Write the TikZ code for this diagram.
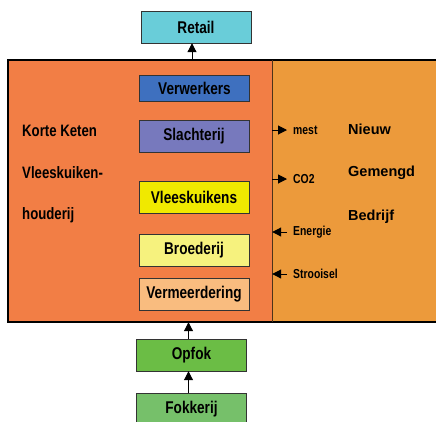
\documentclass[tikz,border=0pt]{standalone}
\usepackage{fontspec}
\setmainfont{Liberation Sans}
\newfontfamily\smalfont[FakeStretch=0.8]{Liberation Sans}
\usetikzlibrary{positioning,calc,arrows.meta}
\definecolor{ketenkleur}{HTML}{F27E45}
\definecolor{bedrijfkleur}{HTML}{EC9A3B}
\definecolor{retailkleur}{HTML}{69CDD9}
\definecolor{verwerkkleur}{HTML}{3E70BF}
\definecolor{slachtkleur}{HTML}{7779BD}
\definecolor{kuikenkleur}{HTML}{F0E900}
\definecolor{broedkleur}{HTML}{F6F27E}
\definecolor{vermeerkleur}{HTML}{F9BC7F}
\definecolor{opfokkleur}{HTML}{6BBD45}
\definecolor{fokkleur}{HTML}{76C06A}
\tikzset{
  schakel/.style={draw=black!80, minimum width=110pt, minimum height=32pt,
    inner sep=1pt, font=\smalfont\bfseries\fontsize{17}{19}\selectfont},
  linkstekst/.style={anchor=west, inner sep=1pt, font=\smalfont\bfseries\fontsize{16.5}{18}\selectfont},
  zijtekst/.style={anchor=west, inner sep=1pt, font=\smalfont\bfseries\fontsize{13}{14}\selectfont},
  grotetekst/.style={anchor=west, inner sep=1pt, font=\bfseries\fontsize{14.5}{17}\selectfont},
  pijl/.style={-{Triangle[length=9pt,width=9pt]}, line width=1pt}
}
\begin{document}
\begin{tikzpicture}[x=1pt,y=-1pt]
    \useasboundingbox (0,0) rectangle (436,421);
    % hoofdvlakken
    \node[fill=ketenkleur, minimum width=264pt, minimum height=262pt, inner sep=0pt] (keten) at (140,191) {};
    \node[fill=bedrijfkleur, minimum width=172pt, minimum height=262pt, inner sep=0pt, right=0pt of keten] (bedrijf) {};
    \draw[line width=1.6pt] (bedrijf.north east) -- (keten.north west) -- (keten.south west) -- (bedrijf.south east);
    \draw[black!60!brown, line width=0.8pt] (keten.north east) -- (keten.south east);

    % keten
    \node[schakel, fill=retailkleur] (Retail) at (196,27) {Retail};
    \node[schakel, fill=verwerkkleur, minimum height=26pt] (Verwerkers) at (194.5,88) {Verwerkers};
    \node[schakel, fill=slachtkleur] (Slachterij) at (194,136) {Slachterij};
    \node[schakel, fill=kuikenkleur] (Vleeskuikens) at (194,197.5) {Vleeskuikens};
    \node[schakel, fill=broedkleur] (Broederij) at (194,250) {Broederij};
    \node[schakel, fill=vermeerkleur] (Vermeerdering) at (194,294) {Vermeerdering};
    \node[schakel, fill=opfokkleur] (Opfok) at (191.5,355) {Opfok};
    \node[schakel, fill=fokkleur, below=22pt of Opfok] (Fokkerij) {Fokkerij};

    \node[linkstekst] (korte) at (21,131) {Korte Keten};
    \node[linkstekst] (vlees) at (21,173) {Vleeskuiken-};
    \node[linkstekst] (houderij) at (21,215) {houderij};

    % nieuw gemengd bedrijf
    \node[grotetekst] (Nieuw) at (347,129) {Nieuw};
    \node[grotetekst] (Gemengd) at (347,173) {Gemengd};
    \node[grotetekst] (Bedrijf) at (347,217) {Bedrijf};

    \node[zijtekst] (mest) at (292,130) {mest};
    \node[zijtekst] (CO2) at (292,179) {CO2};
    \node[zijtekst] (Energie) at (292,232) {Energie};
    \node[zijtekst] (Strooisel) at (292,274) {Strooisel};

    \draw[pijl, shorten >=5pt] (keten.east |- mest.west) -- (mest.west);
    \draw[pijl, shorten >=5pt] (keten.east |- CO2.west) -- (CO2.west);
    \draw[pijl, shorten <=5pt] (Energie.west) -- (keten.east |- Energie.west);
    \draw[pijl, shorten <=5pt] (Strooisel.west) -- (keten.east |- Strooisel.west);

    % stroom omhoog
    \draw[pijl] ([xshift=-4pt]Retail.south |- keten.north) -- ([xshift=-4pt]Retail.south);
    \draw[pijl] ([xshift=-3pt]Opfok.north) -- ([xshift=-3pt]Opfok.north |- keten.south);
    \draw[pijl] ([xshift=-3pt]Fokkerij.north) -- ([xshift=-3pt]Opfok.south);
\end{tikzpicture}
\end{document}
